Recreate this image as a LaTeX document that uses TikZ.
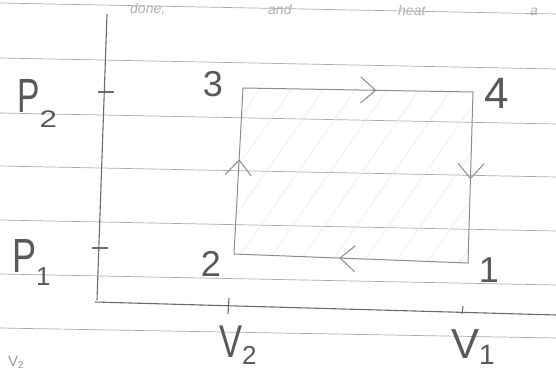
\documentclass[tikz,border=0pt]{standalone}
\usepackage{fontspec}
\setmainfont{Liberation Sans}
\usetikzlibrary{arrows.meta,decorations.markings}
\tikzset{
  paperline/.style={draw=black!33, line width=0.7pt},
  axisline/.style={draw=black!58, line width=1.1pt},
  cycleline/.style={draw=black!45, line width=1pt, line cap=round},
  hatchline/.style={draw=black!9, line width=0.6pt},
  handtext/.style={text=black!65, inner sep=0pt, font=\fontsize{36}{36}\selectfont},
  faintword/.style={text=black!30, inner sep=0pt, anchor=base west, font=\itshape\fontsize{14}{14}\selectfont},
  chev/.style={postaction={decorate}, decoration={markings,
      mark=at position #1 with {\arrow{Straight Barb[length=15pt,width=26pt]}}}},
}
\begin{document}
\begin{tikzpicture}[x=1pt,y=-1pt]
\useasboundingbox[fill=white] (0,0) rectangle (556,371);

% corners of the cycle
\coordinate (c1) at (468,263);
\coordinate (c2) at (234,254);
\coordinate (c3) at (243,88);
\coordinate (c4) at (473,92);

\begin{scope}
  \clip (0,0) rectangle (556,371);
  % ruled paper lines
  \foreach \a/\b in {3/14,58/69,113/124,166/177,220/231,274/285,328/338}
    \draw[paperline] (0,\a) -- (556,\b);
\end{scope}
% faint handwriting along the top edge
\node[faintword] (wdone) at (130,14) {done,};
\node[faintword] (wand) at (268,15) {and};
\node[faintword] (wheat) at (398,16) {heat};
\node[faintword] (wa) at (530,16) {a};
% small label at the bottom edge
\node[text=black!40, inner sep=0pt, anchor=base west, font=\fontsize{15}{15}\selectfont] (vcut) at (8,366)
  {V\raisebox{-2pt}{\fontsize{10}{10}\selectfont 2}};

% hatching inside the cycle
\begin{scope}
  \clip (c2) -- (c3) -- (c4) -- (c1) -- cycle;
  \foreach \k in {0,...,13}
    \draw[hatchline] ({120+\k*32},290) -- ({280+\k*32},60);
\end{scope}

% axes
\coordinate (ytop) at (107,14);
\coordinate (ybot) at (97,300);
\coordinate (xleft) at (95,302);
\coordinate (xright) at (556,315);
\draw[axisline] (ytop) -- (ybot);
\draw[axisline] (xleft) -- (xright);

% ticks
\coordinate (tp2a) at (98,92);  \coordinate (tp2b) at (114,92);
\coordinate (tp1a) at (92,248); \coordinate (tp1b) at (108,248);
\coordinate (tv2a) at (229,298); \coordinate (tv2b) at (228,314);
\coordinate (tv1a) at (463,306); \coordinate (tv1b) at (462,314);
\draw[axisline] (tp2a) -- (tp2b);
\draw[axisline] (tp1a) -- (tp1b);
\draw[axisline] (tv2a) -- (tv2b);
\draw[axisline] (tv1a) -- (tv1b);

% cycle
\draw[cycleline, chev=0.57] (c2) -- (c3);
\draw[cycleline, chev=0.58] (c3) -- (c4);
\draw[cycleline, chev=0.51] (c4) -- (c1);
\draw[cycleline, chev=0.55] (c1) -- (c2);

% corner labels
\node[handtext] (l3) at (213,84) {3};
\node[handtext, font=\fontsize{44}{44}\selectfont] (l4) at (497,93) {4};
\node[handtext] (l2) at (211,264) {2};
\node[handtext] (l1) at (489,270) {1};

% axis labels
\node[handtext, anchor=base west] (p2) at (17,113)
  {\scalebox{0.7}[1]{\fontsize{48}{48}\selectfont P}\raisebox{-15pt}{\scalebox{1.3}[1]{\fontsize{24}{24}\selectfont 2}}};
\node[handtext, anchor=base west] (p1) at (12,272)
  {\scalebox{0.75}[1]{\fontsize{48}{48}\selectfont P}\raisebox{-13pt}{\fontsize{26}{26}\selectfont 1}};
\node[handtext, anchor=base west] (v2) at (219,357)
  {\scalebox{0.75}[1]{\fontsize{46}{46}\selectfont V}\raisebox{-7pt}{\fontsize{26}{26}\selectfont 2}};
\node[handtext, anchor=base west] (v1) at (451,358)
  {{\fontsize{42}{42}\selectfont V}\raisebox{-6pt}{\fontsize{28}{28}\selectfont 1}};
\end{tikzpicture}
\end{document}
